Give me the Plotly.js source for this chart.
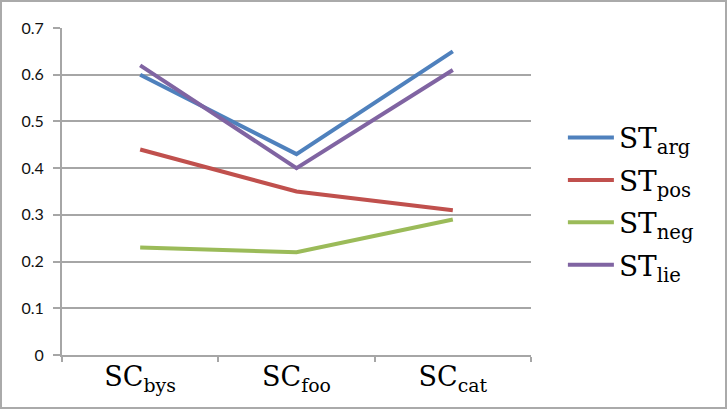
<!DOCTYPE html>
<html>
<head>
<meta charset="utf-8">
<script src="https://cdn.plot.ly/plotly-3.0.1.min.js"></script>
<style>
  body { margin: 0; background: #fff; }
  #wrap { position: relative; width: 727px; height: 409px; }
  #frame { position: absolute; left: 0; top: 0; width: 727px; height: 409px;
           box-sizing: border-box; border: 2px solid #aaaaaa; pointer-events: none; }
</style>
</head>
<body>
<div id="wrap">
  <div id="chart"></div>
  <div id="frame"></div>
</div>
<script>
// categories (SC_x) and series (ST_x)
var categories = ["SC<sub>bys</sub>", "SC<sub>foo</sub>", "SC<sub>cat</sub>"];
var seriesNames = ["ST<sub>arg</sub>", "ST<sub>pos</sub>", "ST<sub>neg</sub>", "ST<sub>lie</sub>"];
var st_arg = [0.60, 0.43, 0.65];
var st_pos = [0.44, 0.35, 0.31];
var st_neg = [0.23, 0.22, 0.29];
var st_lie = [0.62, 0.40, 0.61];
var yTicks = [0, 0.1, 0.2, 0.3, 0.4, 0.5, 0.6, 0.7];

var colors = ["#4f81bd", "#c0504d", "#9bbb59", "#8064a2"];
var values = [st_arg, st_pos, st_neg, st_lie];

var traces = [];
for (var i = 0; i < values.length; i++) {
  traces.push({
    x: categories,
    y: values[i],
    type: "scatter",
    mode: "lines",
    name: seriesNames[i],
    legendgroup: "g" + i,
    line: { color: colors[i], width: 4 },
    hoverinfo: "skip"
  });
}

// no typewriter serif installed, DejaVu Serif is the nearest slab face
var labelFont = { family: "DejaVu Serif", size: 27, color: "#000" };
var legendFont = { family: "DejaVu Serif", size: 28, color: "#000" };

var layout = {
  width: 727,
  height: 409,
  margin: { l: 62, r: 196, t: 28, b: 54 },
  paper_bgcolor: "#fff",
  plot_bgcolor: "#fff",
  showlegend: true,
  legend: {
    x: 1.068,
    xanchor: "left",
    y: 0.47,
    yanchor: "middle",
    font: legendFont,
    itemwidth: 46,
    tracegroupgap: 3,
    bgcolor: "rgba(0,0,0,0)"
  },
  xaxis: {
    type: "category",
    range: [-0.5, 2.5],
    showgrid: false,
    showline: true,
    linecolor: "#a6a6a6",
    linewidth: 2,
    ticks: "outside",
    tickson: "boundaries",
    ticklen: 5,
    tickwidth: 2,
    tickcolor: "#a6a6a6",
    ticklabelstandoff: -3,
    tickfont: labelFont,
    zeroline: false
  },
  yaxis: {
    range: [0, 0.7],
    tickvals: yTicks,
    ticktext: yTicks.map(function (v) { return String(v); }),
    showgrid: true,
    gridcolor: "#a6a6a6",
    gridwidth: 2,
    showline: true,
    linecolor: "#a6a6a6",
    linewidth: 2,
    ticks: "outside",
    ticklen: 7,
    tickwidth: 2,
    tickcolor: "#a6a6a6",
    ticklabelstandoff: 6,
    tickfont: { family: "Lato, 'Open Sans', sans-serif", size: 16, color: "#111" },
    zeroline: false
  }
};

Plotly.newPlot("chart", traces, layout, { displayModeBar: false, staticPlot: true });
</script>
</body>
</html>
